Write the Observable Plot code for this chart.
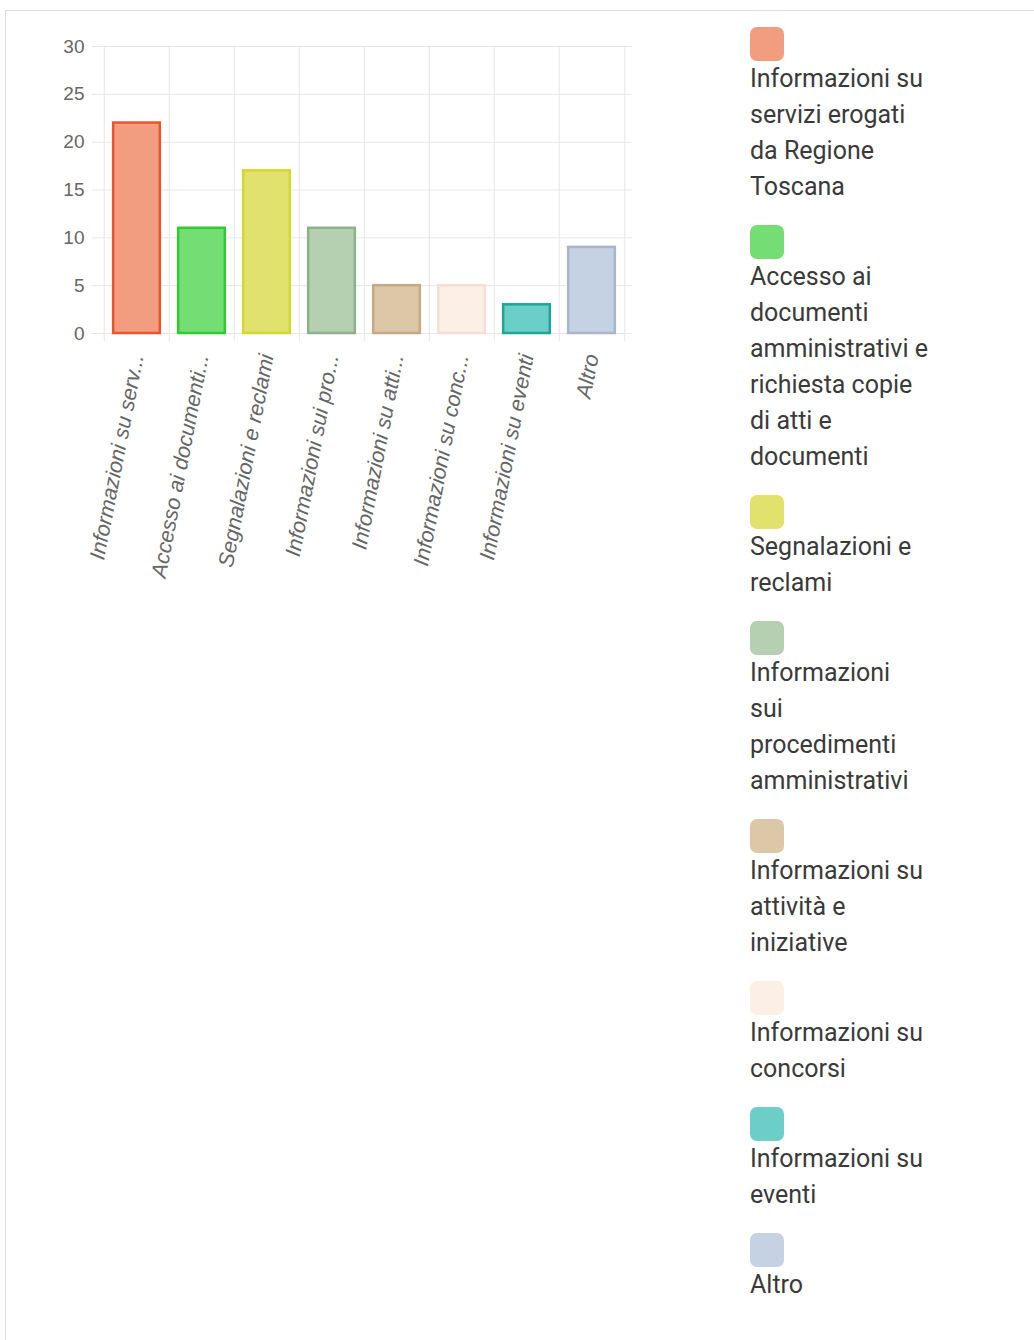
<!DOCTYPE html>
<html>
<head>
<meta charset="utf-8">
<script src="https://cdn.jsdelivr.net/npm/d3@7"></script>
<script src="https://cdn.jsdelivr.net/npm/@observablehq/plot@0.6"></script>
<style>
  html, body { margin: 0; padding: 0; background: #fff; }
  #wrap { position: relative; width: 1034px; height: 1340px; overflow: hidden; }
  #frame { position: absolute; left: 5px; top: 10px; right: -2px; bottom: -2px;
           border-top: 1px solid #dcdcdc; border-left: 1px solid #dcdcdc; }
  #chart { position: absolute; left: 0; top: 0; }
  #legend { position: absolute; left: 750px; top: 27px; width: 280px;
            font-family: Roboto, "Noto Sans", sans-serif; font-size: 25px; line-height: 36px; color: #3a3a3a; }
  .item { margin-bottom: 20px; }
  .sw { width: 34px; height: 34px; border-radius: 7px; }
</style>
</head>
<body>
<div id="wrap">
  <div id="frame"></div>
  <div id="chart"></div>
  <div id="legend"></div>
</div>
<script>
const categories = [
  "Informazioni su servizi erogati da Regione Toscana",
  "Accesso ai documenti amministrativi e richiesta copie di atti e documenti",
  "Segnalazioni e reclami",
  "Informazioni sui procedimenti amministrativi",
  "Informazioni su attività e iniziative",
  "Informazioni su concorsi",
  "Informazioni su eventi",
  "Altro"
];
const values = [22, 11, 17, 11, 5, 5, 3, 9];
const fills   = ["#F29C80", "#74DE74", "#E1E16D", "#B4D0B1", "#DCC7A7", "#FCEFE6", "#6BCFC7", "#C5D2E4"];
const strokes = ["#E9552F", "#2FCB2F", "#D6D631", "#8DAF8A", "#C6A985", "#F6DED3", "#1FA596", "#A9B5C8"];
const yTicks = [0, 5, 10, 15, 20, 25, 30];
const legendLines = [
  ["Informazioni su", "servizi erogati", "da Regione", "Toscana"],
  ["Accesso ai", "documenti", "amministrativi e", "richiesta copie", "di atti e", "documenti"],
  ["Segnalazioni e", "reclami"],
  ["Informazioni", "sui", "procedimenti", "amministrativi"],
  ["Informazioni su", "attività e", "iniziative"],
  ["Informazioni su", "concorsi"],
  ["Informazioni su", "eventi"],
  ["Altro"]
];

const data = categories.map((c, i) => ({cat: c, value: values[i], fill: fills[i], stroke: strokes[i]}));

const W = 660, H = 620;
const mL = 102, mR = 34, mT = 46, mB = H - 333;
const step = (W - mL - mR) / categories.length;
const inset = step * 0.14;
const gridColor = "#e6e6e6";

const chart = Plot.plot({
  width: W, height: H,
  marginLeft: mL, marginRight: mR, marginTop: mT, marginBottom: mB,
  style: {fontFamily: "'Liberation Sans', Arial, sans-serif", color: "#666", background: "transparent"},
  x: {domain: categories, padding: 0, label: null},
  y: {domain: [0, 30], label: null},
  marks: [
    Plot.ruleY(yTicks, {y: d => d, stroke: gridColor, strokeWidth: 1, insetLeft: -10, insetRight: -6}),
    Plot.ruleX(categories, {x: d => d, y1: () => 30, y2: () => 0, dx: -step / 2, stroke: gridColor, strokeWidth: 1, insetBottom: -8}),
    Plot.ruleX(categories.slice(-1), {x: d => d, y1: () => 30, y2: () => 0, dx: step / 2, stroke: gridColor, strokeWidth: 1, insetBottom: -8}),
    Plot.barY(data, {x: "cat", y: "value", fill: d => d.fill, stroke: d => d.stroke, strokeWidth: 2.5,
      insetLeft: inset, insetRight: inset}),
    Plot.axisY({ticks: yTicks, tickSize: 0, tickPadding: 18, fontSize: 19, fill: "#666", label: null}),
    Plot.axisX({tickSize: 0, tickRotate: -79, tickPadding: 21, fontSize: 21.5, fill: "#666", label: null,
      fontStyle: "italic",
      tickFormat: d => d.length > 22 ? d.slice(0, 20) + "..." : d})
  ]
});
document.getElementById("chart").appendChild(chart);

const legend = document.getElementById("legend");
categories.forEach((c, i) => {
  const item = document.createElement("div");
  item.className = "item";
  const sw = document.createElement("div");
  sw.className = "sw";
  sw.style.background = fills[i];
  item.appendChild(sw);
  const t = document.createElement("div");
  t.innerHTML = legendLines[i].join("<br>");
  item.appendChild(t);
  legend.appendChild(item);
});
</script>
</body>
</html>
